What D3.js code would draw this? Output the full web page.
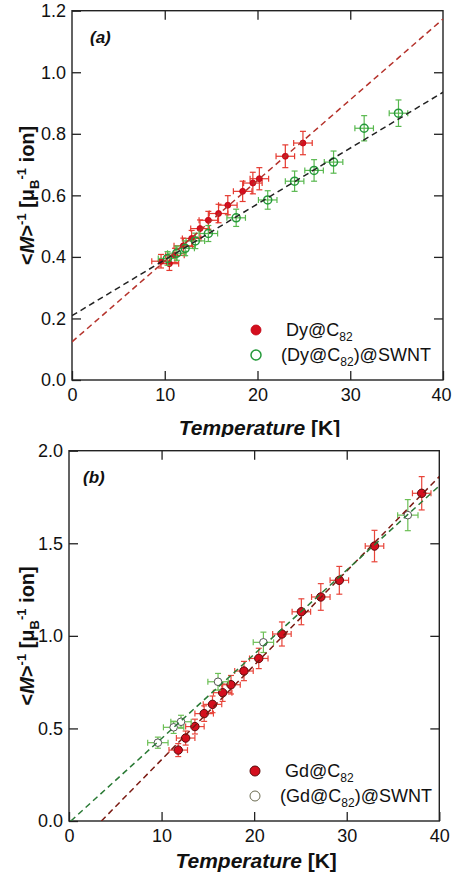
<!DOCTYPE html>
<html>
<head>
<meta charset="utf-8">
<script src="https://cdn.jsdelivr.net/npm/d3@7/dist/d3.min.js"></script>
<style>
  body { margin: 0; background: #fff; }
  svg { display: block; font-family: "Liberation Sans", Arial, sans-serif; }
</style>
</head>
<body>
<svg width="452" height="880"></svg>
<script>
// ---- panel (a) : Dy ----
var dyTemp  = [9.6, 10.5, 11.1, 12.0, 12.9, 13.8, 14.7, 15.8, 16.8, 18.4, 19.5, 20.2, 23.0, 24.9];
var dyInvM  = [0.386, 0.378, 0.405, 0.436, 0.46, 0.492, 0.519, 0.541, 0.568, 0.613, 0.64, 0.654, 0.727, 0.77];
var dyTErr  = [1.0, 1.0, 1.0, 1.0, 1.0, 1.0, 1.0, 1.0, 1.0, 1.0, 1.0, 1.0, 1.0, 1.0];
var dyMErr  = [0.022, 0.022, 0.023, 0.025, 0.026, 0.028, 0.029, 0.03, 0.031, 0.033, 0.035, 0.036, 0.037, 0.038];

var dySwTemp = [10.3, 11.3, 12.2, 13.3, 14.7, 17.7, 21.1, 24.0, 26.1, 28.2, 31.5, 35.2];
var dySwInvM = [0.395, 0.412, 0.428, 0.452, 0.476, 0.527, 0.585, 0.646, 0.681, 0.708, 0.818, 0.867];
var dySwTErr = [1.0, 1.0, 1.0, 1.0, 1.0, 1.0, 1.0, 1.0, 1.0, 1.0, 1.0, 1.0];
var dySwMErr = [0.022, 0.023, 0.024, 0.025, 0.026, 0.028, 0.03, 0.033, 0.035, 0.036, 0.041, 0.043];

var dyFit   = [[0, 0.124], [40, 1.173]];
var dySwFit = [[0, 0.209], [40, 0.935]];

// ---- panel (b) : Gd ----
var gdTemp = [11.8, 12.6, 13.6, 14.6, 15.5, 16.6, 17.5, 18.9, 20.5, 23.0, 25.1, 27.2, 29.2, 33.0, 38.1];
var gdInvM = [0.383, 0.448, 0.51, 0.58, 0.63, 0.693, 0.736, 0.81, 0.878, 1.01, 1.13, 1.21, 1.30, 1.485, 1.77];
var gdTErr = [1.0, 1.0, 1.0, 1.0, 1.0, 1.0, 1.0, 1.0, 1.0, 1.0, 1.0, 1.0, 1.0, 1.0, 1.0];
var gdMErr = [0.035, 0.038, 0.04, 0.042, 0.045, 0.047, 0.05, 0.052, 0.055, 0.065, 0.07, 0.072, 0.075, 0.085, 0.09];

var gdSwTemp = [9.6, 11.3, 12.1, 16.1, 21.0, 36.6];
var gdSwInvM = [0.423, 0.506, 0.536, 0.752, 0.965, 1.652];
var gdSwTErr = [1.1, 1.1, 1.1, 1.1, 1.1, 1.1];
var gdSwMErr = [0.03, 0.033, 0.035, 0.045, 0.055, 0.084];

var gdFit   = [[3.5, 0], [40, 1.86]];
var gdSwFit = [[0.2, 0], [40, 1.81]];

var tempTicks = [0, 10, 20, 30, 40];
var invTicksA = [0, 0.2, 0.4, 0.6, 0.8, 1.0, 1.2];
var invTicksB = [0, 0.5, 1.0, 1.5, 2.0];

function zipPts(t, m, te, me) {
  return t.map(function(d, i) { return {t: d, m: m[i], te: te[i], me: me[i]}; });
}

var svg = d3.select("svg");

function drawPanel(cfg) {
  var x = d3.scaleLinear().domain([0, 40]).range([cfg.left, cfg.right]);
  var y = d3.scaleLinear().domain(cfg.yDomain).range([cfg.bottom, cfg.top]);
  var g = svg.append("g");
  var clipId = "clip" + cfg.name;

  g.append("clipPath").attr("id", clipId)
    .append("rect")
      .attr("x", cfg.left).attr("y", cfg.top)
      .attr("width", cfg.right - cfg.left).attr("height", cfg.bottom - cfg.top);

  // axes, ticks inward
  var xAxis = g.append("g").attr("transform", "translate(0," + cfg.bottom + ")")
      .call(d3.axisBottom(x).tickValues(tempTicks).tickSizeInner(-9).tickSizeOuter(0).tickPadding(8));
  g.append("g").attr("transform", "translate(" + cfg.left + ",0)")
      .call(d3.axisLeft(y).tickValues(cfg.yTicks).tickSizeInner(-9).tickSizeOuter(0).tickPadding(6)
        .tickFormat(d3.format(".1f")));
  g.append("g").attr("transform", "translate(0," + cfg.top + ")")
      .call(d3.axisTop(x).tickValues(tempTicks.slice(1, -1)).tickSizeInner(-9).tickSizeOuter(0).tickFormat(""));
  g.append("g").attr("transform", "translate(" + cfg.right + ",0)")
      .call(d3.axisRight(y).tickValues(cfg.yTicks.slice(1, -1)).tickSizeInner(-9).tickSizeOuter(0).tickFormat(""));

  g.selectAll(".domain").remove();
  g.selectAll(".tick line").attr("stroke", "#222").attr("stroke-width", 1.3);
  g.selectAll(".tick text").attr("fill", "#111").style("font-size", "18px")
    .style("font-family", "'Liberation Sans', Arial, sans-serif");
  // keep the last label inside the page
  xAxis.selectAll(".tick text").filter(function(d) { return d === 40; })
    .attr("text-anchor", "end").attr("dx", 10 - (452 - cfg.right > 10 ? 0 : 11 - (452 - cfg.right)));

  g.append("rect")
    .attr("x", cfg.left).attr("y", cfg.top)
    .attr("width", cfg.right - cfg.left).attr("height", cfg.bottom - cfg.top)
    .attr("fill", "none").attr("stroke", "#222").attr("stroke-width", 1.4);

  // series
  cfg.series.forEach(function(s) {
    var pts = zipPts(s.t, s.m, s.te, s.me);
    var eg = g.append("g").attr("stroke", s.errColor).attr("stroke-width", 1.2).attr("fill", "none");
    pts.forEach(function(p) {
      var cx = x(p.t), cy = y(p.m);
      var x0 = x(p.t - p.te), x1 = x(p.t + p.te);
      var y0 = y(p.m - p.me), y1 = y(p.m + p.me);
      eg.append("line").attr("x1", x0).attr("x2", x1).attr("y1", cy).attr("y2", cy);
      eg.append("line").attr("x1", x0).attr("x2", x0).attr("y1", cy - 3).attr("y2", cy + 3);
      eg.append("line").attr("x1", x1).attr("x2", x1).attr("y1", cy - 3).attr("y2", cy + 3);
      eg.append("line").attr("x1", cx).attr("x2", cx).attr("y1", y0).attr("y2", y1);
      eg.append("line").attr("x1", cx - 3).attr("x2", cx + 3).attr("y1", y0).attr("y2", y0);
      eg.append("line").attr("x1", cx - 3).attr("x2", cx + 3).attr("y1", y1).attr("y2", y1);
    });
    g.append("g").selectAll("circle").data(pts).enter().append("circle")
      .attr("cx", function(d) { return x(d.t); })
      .attr("cy", function(d) { return y(d.m); })
      .attr("r", s.r)
      .attr("fill", s.fill)
      .attr("stroke", s.stroke)
      .attr("stroke-width", s.sw);
  });

  // fit lines on top
  var line = d3.line().x(function(d) { return x(d[0]); }).y(function(d) { return y(d[1]); });
  cfg.fits.forEach(function(f) {
    g.append("path").datum(f.pts)
      .attr("clip-path", "url(#" + clipId + ")")
      .attr("d", line)
      .attr("fill", "none")
      .attr("stroke", f.color)
      .attr("stroke-width", 1.5)
      .attr("stroke-dasharray", "6,4");
  });

  // panel letter
  g.append("text")
    .attr("x", cfg.left + cfg.letterDx).attr("y", cfg.top + 32)
    .style("font-size", "17px").style("font-weight", "bold").style("font-style", "italic")
    .attr("fill", "#111")
    .text(cfg.letter);

  // legend
  cfg.legend.forEach(function(l, i) {
    var ly = cfg.legendY + i * 25;
    g.append("circle").attr("cx", cfg.legendX).attr("cy", ly)
      .attr("r", 5).attr("fill", l.fill).attr("stroke", l.stroke).attr("stroke-width", l.sw);
    var t = g.append("text").attr("x", cfg.legendX + l.dx).attr("y", ly + 6)
      .style("font-size", "18px").attr("fill", "#111");
    t.append("tspan").text(l.pre);
    t.append("tspan").attr("dy", 5).style("font-size", "12px").text("82");
    t.append("tspan").attr("dy", -5).text(l.post);
  });

  // x title
  var xt = g.append("text")
    .attr("x", (cfg.left + cfg.right) / 2 + 2).attr("y", cfg.xTitleY)
    .attr("text-anchor", "middle")
    .style("font-size", "21px").style("font-weight", "bold").attr("fill", "#111");
  if (cfg.xTitleClip) xt.attr("clip-path", "url(#" + cfg.xTitleClip + ")");
  xt.append("tspan").style("font-style", "italic").text("Temperature");
  xt.append("tspan").text(" [K]");

  // y title
  var yt = g.append("text")
    .attr("transform", "translate(34," + ((cfg.top + cfg.bottom) / 2) + ") rotate(-90)")
    .attr("text-anchor", "middle")
    .style("font-size", "20px").style("font-weight", "bold").attr("fill", "#111");
  yt.append("tspan").text("<");
  yt.append("tspan").style("font-style", "italic").text("M");
  yt.append("tspan").text(">");
  yt.append("tspan").attr("dy", -8).style("font-size", "13px").text("-1");
  yt.append("tspan").attr("dy", 8).text(" [\u03bc");
  yt.append("tspan").attr("dy", 5).style("font-size", "13px").text("B");
  yt.append("tspan").attr("dy", -13).style("font-size", "13px").text("-1");
  yt.append("tspan").attr("dy", 8).text(" ion]");
}

// the title of panel (a) is cut by the top of panel (b)
svg.append("clipPath").attr("id", "titleClipA")
  .append("rect").attr("x", 0).attr("y", 405).attr("width", 452).attr("height", 32);

drawPanel({
  name: "A", letter: "(a)", letterDx: 18,
  left: 72, right: 443, top: 10.7, bottom: 380,
  yDomain: [0, 1.2], yTicks: invTicksA,
  xTitleY: 435, xTitleClip: "titleClipA",
  legendX: 256, legendY: 330,
  series: [
    {t: dyTemp, m: dyInvM, te: dyTErr, me: dyMErr, r: 3, fill: "#d40f1e", stroke: "#c00010", sw: 0.8, errColor: "#e5392f"},
    {t: dySwTemp, m: dySwInvM, te: dySwTErr, me: dySwMErr, r: 4, fill: "none", stroke: "#259a3a", sw: 1.5, errColor: "#58b84e"}
  ],
  fits: [
    {pts: dyFit, color: "#b5322b"},
    {pts: dySwFit, color: "#222"}
  ],
  legend: [
    {fill: "#d40f1e", stroke: "#c00010", sw: 0.8, dx: 30, pre: "Dy@C", post: ""},
    {fill: "#fff", stroke: "#259a3a", sw: 1.5, dx: 25, pre: "(Dy@C", post: ")@SWNT"}
  ]
});

drawPanel({
  name: "B", letter: "(b)", letterDx: 14,
  left: 69, right: 439.3, top: 450.7, bottom: 821,
  yDomain: [0, 2.0], yTicks: invTicksB,
  xTitleY: 868,
  legendX: 255, legendY: 771,
  series: [
    {t: gdTemp, m: gdInvM, te: gdTErr, me: gdMErr, r: 4.2, fill: "#d40f1e", stroke: "#5a0a0a", sw: 1, errColor: "#e8453a"},
    {t: gdSwTemp, m: gdSwInvM, te: gdSwTErr, me: gdSwMErr, r: 3.8, fill: "#fff", stroke: "#555", sw: 1, errColor: "#6cbf55"}
  ],
  fits: [
    {pts: gdFit, color: "#7a1a12"},
    {pts: gdSwFit, color: "#2a7a35"}
  ],
  legend: [
    {fill: "#d40f1e", stroke: "#5a0a0a", sw: 1, dx: 30, pre: "Gd@C", post: ""},
    {fill: "#fff", stroke: "#6a6a50", sw: 1, dx: 25, pre: "(Gd@C", post: ")@SWNT"}
  ]
});
</script>
</body>
</html>
